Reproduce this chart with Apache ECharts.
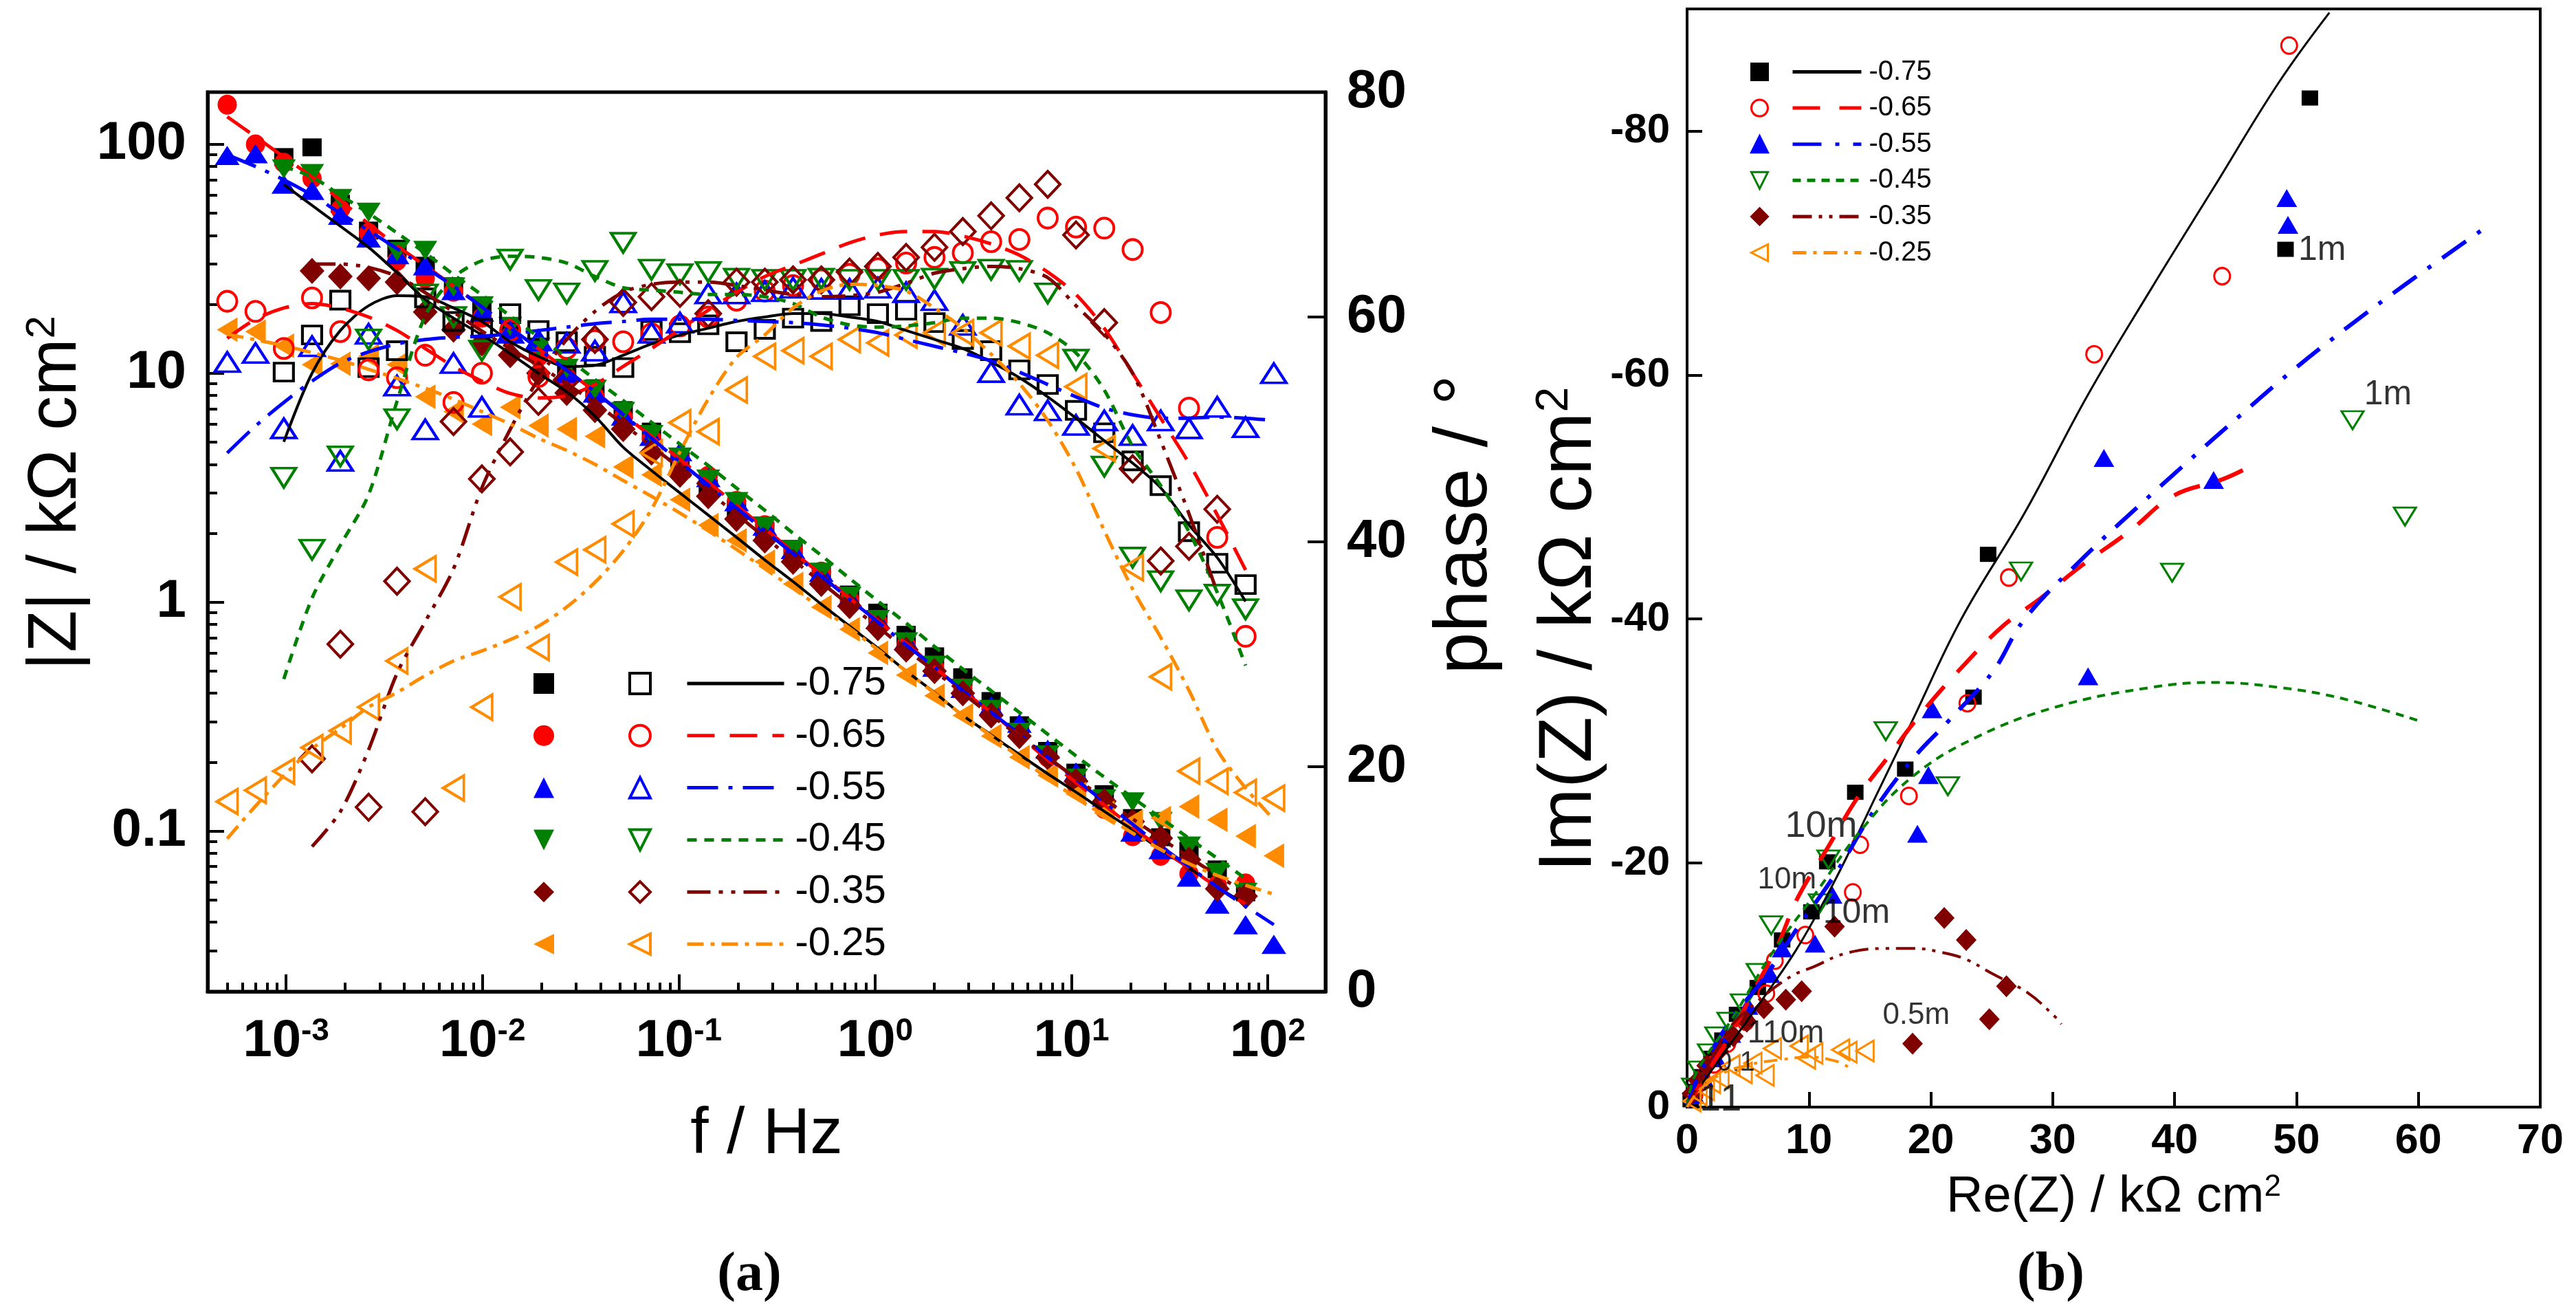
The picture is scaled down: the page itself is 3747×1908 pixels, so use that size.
<!DOCTYPE html>
<html>
<head>
<meta charset="utf-8">
<script src="https://cdn.jsdelivr.net/npm/echarts@6/dist/echarts.min.js"></script>
<style>
  html, body { margin: 0; padding: 0; background: #fff; }
  #chart { width: 3747px; height: 1908px; }
</style>
</head>
<body>
<div id="chart"></div>
<script>
// ---------- data: panel (a), Bode plot ----------
const _ = null;
const potentials = ['-0.75', '-0.65', '-0.55', '-0.45', '-0.35', '-0.25'];

// measured frequencies / Hz (7 per decade)
const freqA = [0.000501, 0.000698, 0.000973, 0.001355, 0.001888, 0.00263, 0.00367, 0.00511, 0.00712, 0.00993,
  0.01384, 0.01928, 0.02686, 0.0374, 0.0521, 0.0726, 0.1014, 0.1413, 0.1968, 0.2742,
  0.382, 0.532, 0.741, 1.033, 1.439, 2.007, 2.797, 3.90, 5.43, 7.57,
  10.55, 14.7, 20.5, 28.5, 39.7, 55.3, 77.1, 107.4];

// |Z| / kOhm cm2 (filled markers)
const zm075 = [_, _, 88, 97, 55, 42, 35, 29.5, 24, 19.4, 15.8, 12.6, 10.4, 8.6, 6.9, 5.56, 4.14, 3.14, 2.54, 2.05,
  1.66, 1.34, 1.08, 0.90, 0.72, 0.58, 0.47, 0.37, 0.29, 0.224, 0.18, 0.145, 0.114, 0.094, 0.082, 0.068, 0.054, _];
const zm065 = [149, 100, 83, 71, 52, 41, 31, 26, 22.7, 17.5, 14.5, 11.8, 9.6, 7.9, 6.4, 5.2, 4.3, 3.56, 2.77, 2.17,
  1.69, 1.36, 1.03, 0.82, 0.65, 0.52, 0.42, 0.34, 0.27, 0.21, 0.16, 0.125, 0.095, 0.078, 0.065, 0.058, 0.059, _];
const zm055 = [89.5, 91, 67, 63, 49, 39, 33, 29.5, 23, 18.5, 15, 13.8, 10, 8.2, 6.5, 5.3, 4.55, 3.5, 2.75, 2.15,
  1.7, 1.35, 1.05, 0.84, 0.68, 0.52, 0.42, 0.353, 0.296, 0.228, 0.181, 0.141, 0.099, 0.083, 0.063, 0.048, 0.039, 0.032];
const zm045 = [_, _, 78, 74.5, 58, 50.5, 34, 34.4, 23.8, 19.7, 16, 13, 10.5, 8.5, 6.8, 5.4, 4.3, 3.45, 2.75, 2.15,
  1.7, 1.35, 1.06, 0.84, 0.67, 0.53, 0.42, 0.34, 0.27, 0.215, 0.17, 0.138, 0.134, 0.11, 0.086, 0.066, 0.054, _];
const zm035 = [_, _, _, 28, 26.5, 26, 25, 18.5, 15.5, 13.5, 12, 10, 8.2, 6.9, 5.7, 4.5, 3.6, 2.9, 2.31, 1.86,
  1.5, 1.2, 0.96, 0.77, 0.62, 0.5, 0.4, 0.32, 0.26, 0.21, 0.165, 0.135, 0.11, 0.093, 0.075, 0.056, 0.052, _];
const zm025 = [15.5, 15.2, 13.2, 10.9, 11.0, 11.9, 10.9, 7.9, 6.8, 6.0, 7.1, 5.9, 5.7, 5.3, 3.9, 3.6, 2.8, 2.17, 1.86, 1.5,
  1.2, 0.95, 0.76, 0.6, 0.48, 0.39, 0.32, 0.26, 0.21, 0.175, 0.145, 0.12, 0.11, 0.114, 0.128, 0.112, 0.095, 0.078];

// phase / deg (open markers)
const ph075 = [_, _, 55.1, 58.4, 61.5, 55.5, 57.0, 61.7, 59.6, 59.0, 60.3, 58.8, 57.8, 56.5, 55.5, 58.8, 58.6, 59.3, 57.8, 58.9,
  59.9, 59.6, 61.0, 60.3, 60.6, 59.5, 58.0, 57.0, 55.3, 54.0, 51.7, 49.7, 47.2, 45.0, 40.9, 38.1, 36.2, _];
const ph065 = [61.4, 60.5, 57.2, 61.7, 58.7, 55.3, 54.6, 56.6, 52.4, 55.0, 58.8, 54.7, 57.2, 57.9, 57.8, 58.5, 59.2, 60.0, 61.5, 62.3,
  62.8, 63.3, 63.8, 64.3, 64.8, 65.3, 65.7, 66.7, 66.9, 68.8, 68.0, 67.9, 66.0, 60.4, 51.9, 40.4, 31.6, _];
const ph055 = [56.0, 56.8, 50.1, 57.4, 47.2, 58.5, 53.9, 50.0, 55.9, 52.0, 58.6, 57.9, 57.7, 57.0, 61.3, 58.6, 59.5, 62.1, 62.1, 62.3,
  62.6, 62.5, 62.5, 62.6, 62.2, 61.5, 59.3, 55.1, 52.2, 51.7, 50.4, 50.8, 49.5, 50.8, 50.1, 52.0, 50.2, 55.0];
const ph045 = [_, _, 45.7, 39.3, 47.6, 58.0, 50.9, 62.0, 60.0, 57.0, 65.1, 62.4, 62.1, 64.1, 66.6, 64.2, 63.8, 64.0, 63.4, 63.3,
  63.3, 63.4, 63.3, 63.3, 63.3, 63.4, 64.0, 64.2, 64.1, 62.1, 56.2, 46.7, 38.6, 36.5, 34.8, 35.3, 34.0, _];
const ph035 = [_, _, _, 20.7, 30.9, 16.4, 36.5, 16.0, 50.7, 45.6, 48.0, 52.5, 54.4, 58.0, 61.3, 61.8, 62.1, 60.3, 63.1, 63.1,
  63.3, 63.3, 64.0, 64.5, 65.3, 66.2, 67.6, 69.0, 70.6, 71.8, 67.3, 59.5, 46.5, 38.3, 39.6, 42.9, _, _];
const ph025 = [16.9, 17.9, 19.6, 21.7, 23.2, 25.3, 29.4, 37.6, 18.1, 25.3, 35.1, 30.6, 38.2, 39.3, 41.6, 47.9, 50.6, 49.8, 53.5, 56.5,
  57.0, 56.5, 58.0, 57.7, 58.4, 58.6, 58.6, 58.6, 57.4, 56.6, 53.8, 48.3, 37.7, 28.0, 19.6, 18.7, 17.7, 17.2];

// fitted |Z|
const zfit075 = [_, _, 66.8, 54.1, 43.9, 35.5, 27.5, 21.0, 17.4, 14.7, 12.2, 10.0, 8.3, 6.5, 4.75, 3.76, 3.0, 2.4, 1.92, 1.53,
  1.23, 0.98, 0.785, 0.63, 0.50, 0.403, 0.32, 0.263, 0.216, 0.178, 0.148, 0.122, 0.101, 0.083, 0.069, 0.057, 0.048, _];
const zfit065 = [132, 108, 88, 72, 57, 45, 36, 29.5, 24, 19.5, 15.8, 12.8, 10.3, 8.3, 6.6, 5.3, 4.2, 3.35, 2.65, 2.1,
  1.66, 1.32, 1.04, 0.83, 0.66, 0.52, 0.41, 0.33, 0.26, 0.205, 0.163, 0.13, 0.104, 0.084, 0.069, 0.057, 0.048, _];
const zfit055 = [90, 80, 70, 60, 50, 42, 35, 29, 24, 19.5, 15.8, 12.8, 10.3, 8.3, 6.6, 5.2, 4.1, 3.25, 2.58, 2.05,
  1.63, 1.3, 1.03, 0.82, 0.65, 0.52, 0.41, 0.33, 0.265, 0.21, 0.168, 0.134, 0.107, 0.086, 0.07, 0.057, 0.047, 0.039];
const zfit045 = [_, _, 80, 72, 60, 50, 41, 33.5, 27, 22, 17.8, 14.4, 11.7, 9.4, 7.6, 6.1, 4.9, 3.95, 3.15, 2.52,
  2.0, 1.6, 1.27, 1.01, 0.81, 0.64, 0.51, 0.41, 0.33, 0.265, 0.213, 0.172, 0.14, 0.114, 0.093, 0.076, 0.062, _];
const zfit035 = [_, _, _, 30, 30, 29, 26.5, 22.5, 18.5, 15.3, 12.8, 10.8, 9.0, 7.4, 6.0, 4.8, 3.85, 3.05, 2.42, 1.92,
  1.53, 1.22, 0.97, 0.78, 0.62, 0.5, 0.4, 0.32, 0.26, 0.21, 0.17, 0.138, 0.113, 0.093, 0.077, 0.064, 0.054, _];
const zfit025 = [14.8, 14.0, 13.2, 12.3, 11.4, 10.4, 9.5, 8.6, 7.7, 6.8, 6.0, 5.2, 4.6, 4.0, 3.4, 2.9, 2.45, 2.05, 1.7, 1.4,
  1.15, 0.94, 0.77, 0.62, 0.5, 0.4, 0.32, 0.26, 0.21, 0.17, 0.14, 0.117, 0.098, 0.083, 0.072, 0.064, 0.058, 0.053];

// fitted phase
const pfit075 = [_, _, 48.9, 55.0, 58.8, 61.0, 61.9, 61.8, 60.8, 59.6, 57.8, 56.5, 55.6, 55.7, 56.6, 57.6, 58.4, 59.0, 59.6, 60.0,
  60.3, 60.3, 60.0, 59.6, 58.8, 58.0, 57.2, 56.0, 54.6, 52.9, 51.0, 49.0, 47.0, 44.8, 41.5, 38.6, 34.7, _];
const pfit065 = [58.1, 59.8, 60.8, 61.2, 60.8, 60.0, 58.8, 57.2, 55.6, 54.3, 53.2, 52.8, 53.0, 54.0, 55.6, 57.2, 58.9, 60.6, 62.2, 63.6,
  64.6, 65.6, 66.6, 67.3, 67.6, 67.6, 67.2, 66.5, 65.5, 64.0, 62.0, 59.0, 55.0, 51.0, 47.0, 42.4, 37.5, _];
const pfit055 = [47.9, 50.3, 52.4, 54.3, 55.9, 56.9, 57.6, 58.0, 58.2, 58.3, 58.5, 58.8, 59.1, 59.4, 59.6, 59.8, 59.8, 59.8, 59.7, 59.6,
  59.5, 59.3, 59.0, 58.6, 58.0, 57.4, 56.8, 56.1, 55.1, 54.0, 52.9, 51.9, 51.3, 51.0, 51.0, 51.1, 51.0, 50.8];
const pfit045 = [_, _, 27.8, 35.0, 39.7, 44.2, 52.5, 60.1, 63.5, 65.0, 65.4, 65.3, 64.8, 63.6, 62.6, 62.4, 62.2, 62.0, 62.0, 61.8,
  61.2, 60.0, 59.3, 59.1, 59.2, 59.5, 59.9, 59.9, 59.5, 58.6, 56.8, 53.5, 48.5, 45.0, 40.9, 35.5, 29.0, _];
const pfit035 = [_, _, _, 12.9, 16.0, 21.5, 28.3, 32.9, 37.6, 44.8, 50.0, 54.5, 58.0, 60.5, 62.2, 62.9, 63.1, 63.1, 62.8, 62.4,
  62.0, 61.8, 61.9, 62.2, 63.0, 63.9, 64.3, 64.5, 64.3, 63.5, 61.0, 58.5, 55.0, 49.0, 42.5, 35.5, _, _];
const pfit025 = [13.6, 16.5, 19.2, 21.6, 23.4, 25.3, 26.6, 28.1, 29.4, 30.3, 31.3, 32.5, 34.2, 36.4, 39.2, 42.9, 48.0, 52.7, 56.4, 58.4,
  60.8, 62.3, 62.9, 62.8, 62.3, 60.8, 59.0, 56.7, 54.1, 50.8, 46.5, 41.0, 35.8, 31.5, 26.8, 21.5, 18.1, 15.3];

// tick values of panel (a)
const fMajor = [0.001, 0.01, 0.1, 1, 10, 100];
const fMinor = [0.0004, 0.0005, 0.0006, 0.0007, 0.0008, 0.0009,
  0.002, 0.003, 0.004, 0.005, 0.006, 0.007, 0.008, 0.009,
  0.02, 0.03, 0.04, 0.05, 0.06, 0.07, 0.08, 0.09,
  0.2, 0.3, 0.4, 0.5, 0.6, 0.7, 0.8, 0.9,
  2, 3, 4, 5, 6, 7, 8, 9, 20, 30, 40, 50, 60, 70, 80, 90];
const zMajor = [0.1, 1, 10, 100];
const zMinor = [0.02, 0.03, 0.04, 0.05, 0.06, 0.07, 0.08, 0.09,
  0.2, 0.3, 0.4, 0.5, 0.6, 0.7, 0.8, 0.9,
  2, 3, 4, 5, 6, 7, 8, 9, 20, 30, 40, 50, 60, 70, 80, 90];

// ---------- data: panel (b), Nyquist plot (Re, Im) / kOhm cm2 ----------
const nyq075 = [[51.1, -82.7], [49.1, -70.3], [24.7, -45.3], [23.5, -33.6], [17.9, -27.7], [13.8, -25.8], [11.5, -20.1], [10.2, -16.0],
  [7.8, -13.7], [5.8, -9.8], [4.1, -7.6], [2.9, -5.5], [2.0, -4.0], [1.2, -2.5], [0.6, -1.3], [0.3, -0.6]];
const nyq065 = [[49.4, -87.0], [43.9, -68.1], [33.4, -61.7], [26.4, -43.4], [23.0, -33.1], [18.2, -25.5], [14.2, -21.5], [13.6, -17.6],
  [9.7, -14.1], [7.2, -12.0], [6.5, -9.3], [4.8, -7.0], [3.3, -5.2], [2.2, -3.5], [1.3, -2.1], [0.6, -1.0]];
const nyq055 = [[49.2, -74.5], [49.3, -72.3], [34.2, -53.2], [43.2, -51.4], [32.9, -35.3], [20.1, -32.6], [19.8, -27.2], [18.9, -22.4],
  [11.9, -17.4], [10.5, -13.4], [7.8, -13.0], [6.8, -10.9], [5.0, -8.3], [3.6, -6.0], [2.4, -4.0], [1.4, -2.3], [0.6, -1.0]];
const nyq045 = [[54.6, -56.3], [58.9, -48.4], [39.8, -43.8], [27.4, -43.9], [16.3, -30.8], [21.4, -26.3], [11.6, -20.3], [10.9, -16.7],
  [6.9, -14.9], [5.8, -11.0], [4.5, -8.5], [3.4, -7.0], [2.4, -5.8], [1.8, -4.4], [1.0, -3.0], [0.5, -1.6]];
const nyq035 = [[21.1, -15.5], [22.9, -13.7], [26.2, -9.9], [24.8, -7.2], [18.5, -5.2], [12.1, -14.8], [9.4, -9.5], [8.1, -8.8],
  [6.3, -8.1], [4.9, -7.0], [3.8, -5.8], [2.6, -4.6], [1.6, -3.4], [0.9, -2.2], [0.4, -1.1]];
const nyq025 = [[14.6, -4.6], [13.2, -4.5], [12.6, -4.7], [10.4, -4.4], [9.8, -4.0], [9.2, -5.0], [7.0, -4.8], [6.4, -2.6],
  [5.4, -3.6], [4.6, -2.8], [3.6, -3.4], [2.7, -2.4], [2.0, -2.0], [1.5, -1.4], [0.9, -1.0], [0.4, -0.5]];

const nfit075 = [[0, 0], [0.8, -1.3], [2.0, -3.0], [3.5, -5.1], [6.3, -9.0], [8.9, -12.8], [11.3, -17.0], [13.2, -20.7], [15.4, -25.3],
  [18.4, -31.5], [22.5, -40.0], [27.7, -48.7], [32.9, -58.4], [38.1, -67.1], [43.3, -75.5], [48.5, -83.9], [52.7, -89.7]];
const nfit065 = [[0, 0], [1.5, -2.6], [3.5, -5.8], [5.5, -9.6], [7.4, -13.2], [9.1, -17.2], [11.5, -21.2], [14.0, -25.4], [16.5, -28.7],
  [19.0, -32.0], [22.5, -36.0], [26.0, -39.5], [29.0, -41.7], [32.4, -44.4], [36.3, -47.2], [39.9, -50.1], [43.8, -51.4], [45.6, -52.2]];
const nfit055 = [[0, 0], [0.7, -2.0], [3.3, -6.7], [6.4, -10.7], [9.0, -14.6], [12.1, -19.0], [15.2, -24.1], [18.4, -28.4], [21.5, -31.7],
  [25.1, -35.7], [27.7, -40.0], [32.9, -45.4], [37.1, -49.3], [41.2, -53.0], [45.4, -56.7], [49.6, -60.3], [54.3, -64.0], [58.9, -67.4], [65.1, -71.8]];
const nfit045 = [[0, 0], [0.7, -2.7], [3.8, -7.4], [6.9, -12.5], [10.6, -17.6], [14.2, -22.6], [18.4, -27.0], [23.5, -30.2], [30.3, -32.8],
  [38.1, -34.4], [43.3, -34.8], [48.5, -34.4], [53.7, -33.5], [59.9, -31.7]];
const nfit035 = [[0, 0], [1.5, -3.0], [3.5, -6.5], [5.7, -8.6], [8.5, -10.7], [10.4, -11.5], [13.0, -12.6], [16.2, -13.0], [18.6, -13.0],
  [20.8, -12.7], [22.9, -12.1], [25.1, -10.9], [27.9, -9.4], [30.2, -7.4], [30.7, -6.8]];
const nfit025 = [[0, 0], [1.2, -1.6], [3.0, -2.8], [5.2, -3.5], [7.8, -3.9], [10.0, -4.1], [12.1, -3.8], [13.2, -3.3]];

// frequency annotations in panel (b): [Re, Im, text]
const notesB = [[52.1, -70.2, '1m'], [57.5, -58.4, '1m'], [11.0, -23.0, '10m'], [8.2, -18.6, '10m'], [13.9, -15.9, '10m'],
  [8.1, -6.0, '110m'], [18.8, -7.5, '0.5m'], [4.0, -3.6, '0.1'], [1.9, -0.6, '1'], [3.6, -0.6, '1']];
const imTicks = [-80, -60, -40, -20, 0];

// ---------- styles ----------
const FONT = "'Liberation Sans', Arial, sans-serif";
const SERIF = "'Liberation Serif', 'Times New Roman', serif";
const notesFont = [50, 50, 54, 44, 50, 46, 44, 40, 56, 56];
const DOWN = 'path://M0,0L2,0L1,2Z';
const LEFT = 'path://M2,0L2,2L0,1Z';
const sty = [
  { color: '#000000', sym: 'rect', icon: 'rect', rot: 0, sizeA: [28, 26], sizeB: [24, 22], openB: false, wA: 4, wB: 3, dashA: 'solid', dashB: 'solid' },
  { color: '#ff0000', sym: 'circle', icon: 'circle', rot: 0, sizeA: [28, 29], sizeB: [23, 24], openB: true, wA: 5, wB: 6, dashA: [40, 22], dashB: [40, 28] },
  { color: '#0000ff', sym: 'triangle', icon: 'triangle', rot: 0, sizeA: [36, 28], sizeB: [30, 26], openB: false, wA: 5, wB: 6, dashA: [45, 15, 6, 15], dashB: [42, 20, 6, 20] },
  { color: '#008000', sym: 'triangle', icon: DOWN, rot: 180, sizeA: [35, 28], sizeB: [32, 26], openB: true, wA: 5, wB: 4, dashA: [14, 11], dashB: [12, 9] },
  { color: '#800000', sym: 'diamond', icon: 'diamond', rot: 0, sizeA: [36, 38], sizeB: [30, 32], openB: false, wA: 5, wB: 4, dashA: [34, 12, 6, 12, 6, 12], dashB: [28, 10, 5, 10, 5, 10] },
  { color: '#ff8c00', sym: 'triangle', icon: LEFT, rot: 90, sizeA: [36, 30], sizeB: [30, 25], openB: true, wA: 5, wB: 4, dashA: [24, 10, 6, 10], dashB: [20, 10, 5, 10] }
];

const zmod = [zm075, zm065, zm055, zm045, zm035, zm025];
const phase = [ph075, ph065, ph055, ph045, ph035, ph025];
const zfit = [zfit075, zfit065, zfit055, zfit045, zfit035, zfit025];
const pfit = [pfit075, pfit065, pfit055, pfit045, pfit035, pfit025];
const nyq = [nyq075, nyq065, nyq055, nyq045, nyq035, nyq025];
const nfit = [nfit075, nfit065, nfit055, nfit045, nfit035, nfit025];

function pairs(xs, ys) {
  const out = [];
  ys.forEach(function (y, i) { if (y !== null) out.push([xs[i], y]); });
  return out;
}

const hollow = 'rgba(255,255,255,0)';
const series = [];

// panel (a) markers
sty.forEach(function (s, k) {
  series.push({
    type: 'scatter', name: 'aZ:' + potentials[k], xAxisIndex: 0, yAxisIndex: 0,
    data: pairs(freqA, zmod[k]), symbol: s.sym, symbolSize: s.sizeA, symbolRotate: s.rot,
    itemStyle: { color: s.color, borderColor: s.color, borderWidth: 0, opacity: 1 }, silent: true
  });
});
sty.forEach(function (s, k) {
  series.push({
    type: 'scatter', name: 'aP:' + potentials[k], xAxisIndex: 0, yAxisIndex: 2,
    data: pairs(freqA, phase[k]), symbol: s.sym, symbolSize: s.sizeA, symbolRotate: s.rot,
    itemStyle: { color: hollow, borderColor: s.color, borderWidth: 4, opacity: 1 }, silent: true
  });
});
// panel (a) fits
sty.forEach(function (s, k) {
  const ls = { color: s.color, width: s.wA, type: s.dashA, cap: 'butt' };
  series.push({ type: 'line', name: 'a:' + potentials[k], xAxisIndex: 0, yAxisIndex: 0, data: pairs(freqA, zfit[k]),
    symbol: 'none', smooth: 0.3, lineStyle: ls, itemStyle: { color: s.color }, silent: true });
  series.push({ type: 'line', name: 'a:' + potentials[k], xAxisIndex: 0, yAxisIndex: 2, data: pairs(freqA, pfit[k]),
    symbol: 'none', smooth: 0.3, lineStyle: ls, itemStyle: { color: s.color }, silent: true });
});
// panel (b) markers and fits
sty.forEach(function (s, k) {
  series.push({
    type: 'scatter', name: 'bN:' + potentials[k], xAxisIndex: 2, yAxisIndex: 3,
    data: nyq[k], symbol: s.sym, symbolSize: s.sizeB, symbolRotate: s.rot,
    itemStyle: s.openB ? { color: hollow, borderColor: s.color, borderWidth: 3, opacity: 1 }
                       : { color: s.color, borderColor: s.color, borderWidth: 0, opacity: 1 },
    silent: true
  });
});
sty.forEach(function (s, k) {
  series.push({ type: 'line', name: 'b:' + potentials[k], xAxisIndex: 2, yAxisIndex: 3, data: nfit[k],
    symbol: 'none', smooth: 0.4, lineStyle: { color: s.color, width: s.wB, type: s.dashB, cap: 'butt' },
    itemStyle: { color: s.color }, silent: true });
});
series.push({
  type: 'scatter', name: 'notes', xAxisIndex: 2, yAxisIndex: 3, symbolSize: 1, silent: true,
  itemStyle: { color: 'rgba(0,0,0,0)' },
  data: notesB.map(function (n, i) { return { name: n[2], value: [n[0], n[1]], label: { fontSize: notesFont[i] } }; }),
  label: { show: true, position: 'inside', formatter: '{b}', color: '#000', fontFamily: FONT }
});

const tickBold = { color: '#000', fontFamily: FONT, fontWeight: 'bold' };
const blackLine = function (w) { return { show: true, onZero: false, lineStyle: { color: '#000', width: w } }; };
const sup = function (size, lh) { return { fontSize: size, lineHeight: lh, verticalAlign: 'top', fontFamily: FONT, color: '#000' }; };

function legendCol(prefix, withIcon, left, top, w, h, gap, fs, lh, visible, extra) {
  const base = {
    data: potentials.map(function (p, k) {
      const item = { name: prefix + p };
      if (withIcon) item.icon = sty[k].icon;
      return item;
    }),
    orient: 'vertical', left: left, top: top, padding: 0,
    itemWidth: w, itemHeight: h, itemGap: gap, selectedMode: false,
    formatter: function (n) { return n.split(':')[1]; },
    textStyle: { color: visible ? '#000' : 'rgba(0,0,0,0)', fontSize: fs, lineHeight: lh, fontFamily: FONT }
  };
  return Object.assign(base, extra || {});
}

const option = {
  animation: false,
  backgroundColor: '#fff',
  textStyle: { fontFamily: FONT, color: '#000' },
  grid: [
    { left: 302, top: 134, width: 1626, height: 1308, show: true, borderColor: '#000', borderWidth: 5, outerBoundsMode: 'none', containLabel: false },
    { left: 2454, top: 13, width: 1241, height: 1597, show: true, borderColor: '#000', borderWidth: 4, outerBoundsMode: 'none', containLabel: false }
  ],
  xAxis: [
    {
      type: 'log', gridIndex: 0, position: 'bottom', min: Math.pow(10, -3.4), max: Math.pow(10, 2.294),
      axisLine: blackLine(5),
      axisTick: { show: true, inside: true, length: 25, customValues: fMajor, lineStyle: { color: '#000', width: 4 } },
      axisLabel: {
        customValues: fMajor, margin: 35,
        formatter: function (v) { return '{b|10}{s|' + Math.round(Math.log10(v)) + '}'; },
        rich: {
          b: Object.assign({ fontSize: 76, lineHeight: 76 }, tickBold),
          s: Object.assign(sup(46, 46), { fontWeight: 'bold' })
        }
      },
      splitLine: { show: false },
      name: 'f / Hz', nameLocation: 'middle', nameGap: 161,
      nameTextStyle: { fontSize: 95, lineHeight: 95, color: '#000', fontFamily: FONT }
    },
    {
      type: 'log', gridIndex: 0, position: 'bottom', min: Math.pow(10, -3.4), max: Math.pow(10, 2.294),
      axisLine: { show: false },
      axisTick: { show: true, inside: true, length: 13, customValues: fMinor, lineStyle: { color: '#000', width: 4 } },
      axisLabel: { show: false }, splitLine: { show: false }
    },
    {
      type: 'value', gridIndex: 1, position: 'bottom', min: 0, max: 70, interval: 10,
      axisLine: blackLine(4),
      axisTick: { show: true, inside: true, length: 22, lineStyle: { color: '#000', width: 4 } },
      axisLabel: Object.assign({ fontSize: 61, margin: 20 }, tickBold),
      splitLine: { show: false },
      name: 'Re(Z) / k\u03a9 cm{s|2}', nameLocation: 'middle', nameGap: 95,
      nameTextStyle: { fontSize: 74, lineHeight: 74, color: '#000', fontFamily: FONT, rich: { s: sup(44, 50) } }
    }
  ],
  yAxis: [
    {
      type: 'log', gridIndex: 0, position: 'left', min: 0.0199, max: Math.pow(10, 2.228),
      axisLine: blackLine(5),
      axisTick: { show: true, inside: true, length: 24, customValues: zMajor, lineStyle: { color: '#000', width: 4 } },
      axisLabel: Object.assign({
        customValues: zMajor, fontSize: 78, margin: 31,
        formatter: function (v) { return v < 1 ? v.toFixed(1) : String(Math.round(v)); }
      }, tickBold),
      splitLine: { show: false },
      name: '|Z| / k\u03a9 cm{s|2}', nameLocation: 'middle', nameRotate: 90, nameGap: 170,
      nameTextStyle: { fontSize: 100, lineHeight: 100, color: '#000', fontFamily: FONT, padding: [0, 0, 0, 142], rich: { s: sup(60, 72) } }
    },
    {
      type: 'log', gridIndex: 0, position: 'left', min: 0.0199, max: Math.pow(10, 2.228),
      axisLine: { show: false },
      axisTick: { show: true, inside: true, length: 14, customValues: zMinor, lineStyle: { color: '#000', width: 4 } },
      axisLabel: { show: false }, splitLine: { show: false }
    },
    {
      type: 'value', gridIndex: 0, position: 'right', min: 0, max: 80, interval: 20,
      axisLine: blackLine(5),
      axisTick: { show: true, inside: true, length: 26, lineStyle: { color: '#000', width: 4 } },
      axisLabel: Object.assign({ fontSize: 78, margin: 31 }, tickBold),
      splitLine: { show: false },
      name: 'phase / \u00b0', nameLocation: 'middle', nameRotate: 90, nameGap: 149,
      nameTextStyle: { fontSize: 110, lineHeight: 110, color: '#000', fontFamily: FONT, padding: [0, 0, 0, 50] }
    },
    {
      type: 'value', gridIndex: 1, position: 'left', min: -90, max: 0, inverse: true,
      axisLine: blackLine(4),
      axisTick: { show: true, inside: true, length: 22, customValues: imTicks, lineStyle: { color: '#000', width: 4 } },
      axisLabel: Object.assign({ customValues: imTicks, fontSize: 60, margin: 25 }, tickBold),
      splitLine: { show: false },
      name: 'Im(Z) / k\u03a9 cm{s|2}', nameLocation: 'middle', nameRotate: 90, nameGap: 109,
      nameTextStyle: { fontSize: 110, lineHeight: 110, color: '#000', fontFamily: FONT, padding: [0, 208, 0, 0], rich: { s: sup(66, 78) } }
    }
  ],
  legend: [
    legendCol('aZ:', true, 776, 964, 30, 30, 15.8, 58, 60, false, { itemStyle: { borderWidth: 0, opacity: 1 } }),
    legendCol('aP:', true, 914, 964, 30, 30, 15.8, 58, 60, false, { itemStyle: { borderWidth: 4, opacity: 1 } }),
    legendCol('a:', false, 997, 964, 141, 30, 15.8, 58, 60, true, { lineStyle: { width: 5 }, itemStyle: { opacity: 0 } }),
    legendCol('bN:', true, 2546, 82.5, 24, 24, 8.6, 40, 44, false, { itemStyle: { borderWidth: 3, opacity: 1 } }),
    legendCol('b:', false, 2605, 82.5, 100, 24, 8.6, 40, 44, true, { lineStyle: { width: 5 }, itemStyle: { opacity: 0 } })
  ],
  graphic: [
    { type: 'text', x: 1090, y: 1855, style: { text: '(a)', font: 'bold 80px ' + SERIF, fill: '#000', textAlign: 'center', textVerticalAlign: 'middle' } },
    { type: 'text', x: 2983, y: 1855, style: { text: '(b)', font: 'bold 80px ' + SERIF, fill: '#000', textAlign: 'center', textVerticalAlign: 'middle' } }
  ],
  series: series
};

// legend text gaps
option.legend[2].textStyle.padding = [0, 0, 0, 11];
option.legend[4].textStyle.padding = [0, 0, 0, 6];

const chart = echarts.init(document.getElementById('chart'), null, { renderer: 'canvas' });
chart.setOption(option);
</script>
</body>
</html>
